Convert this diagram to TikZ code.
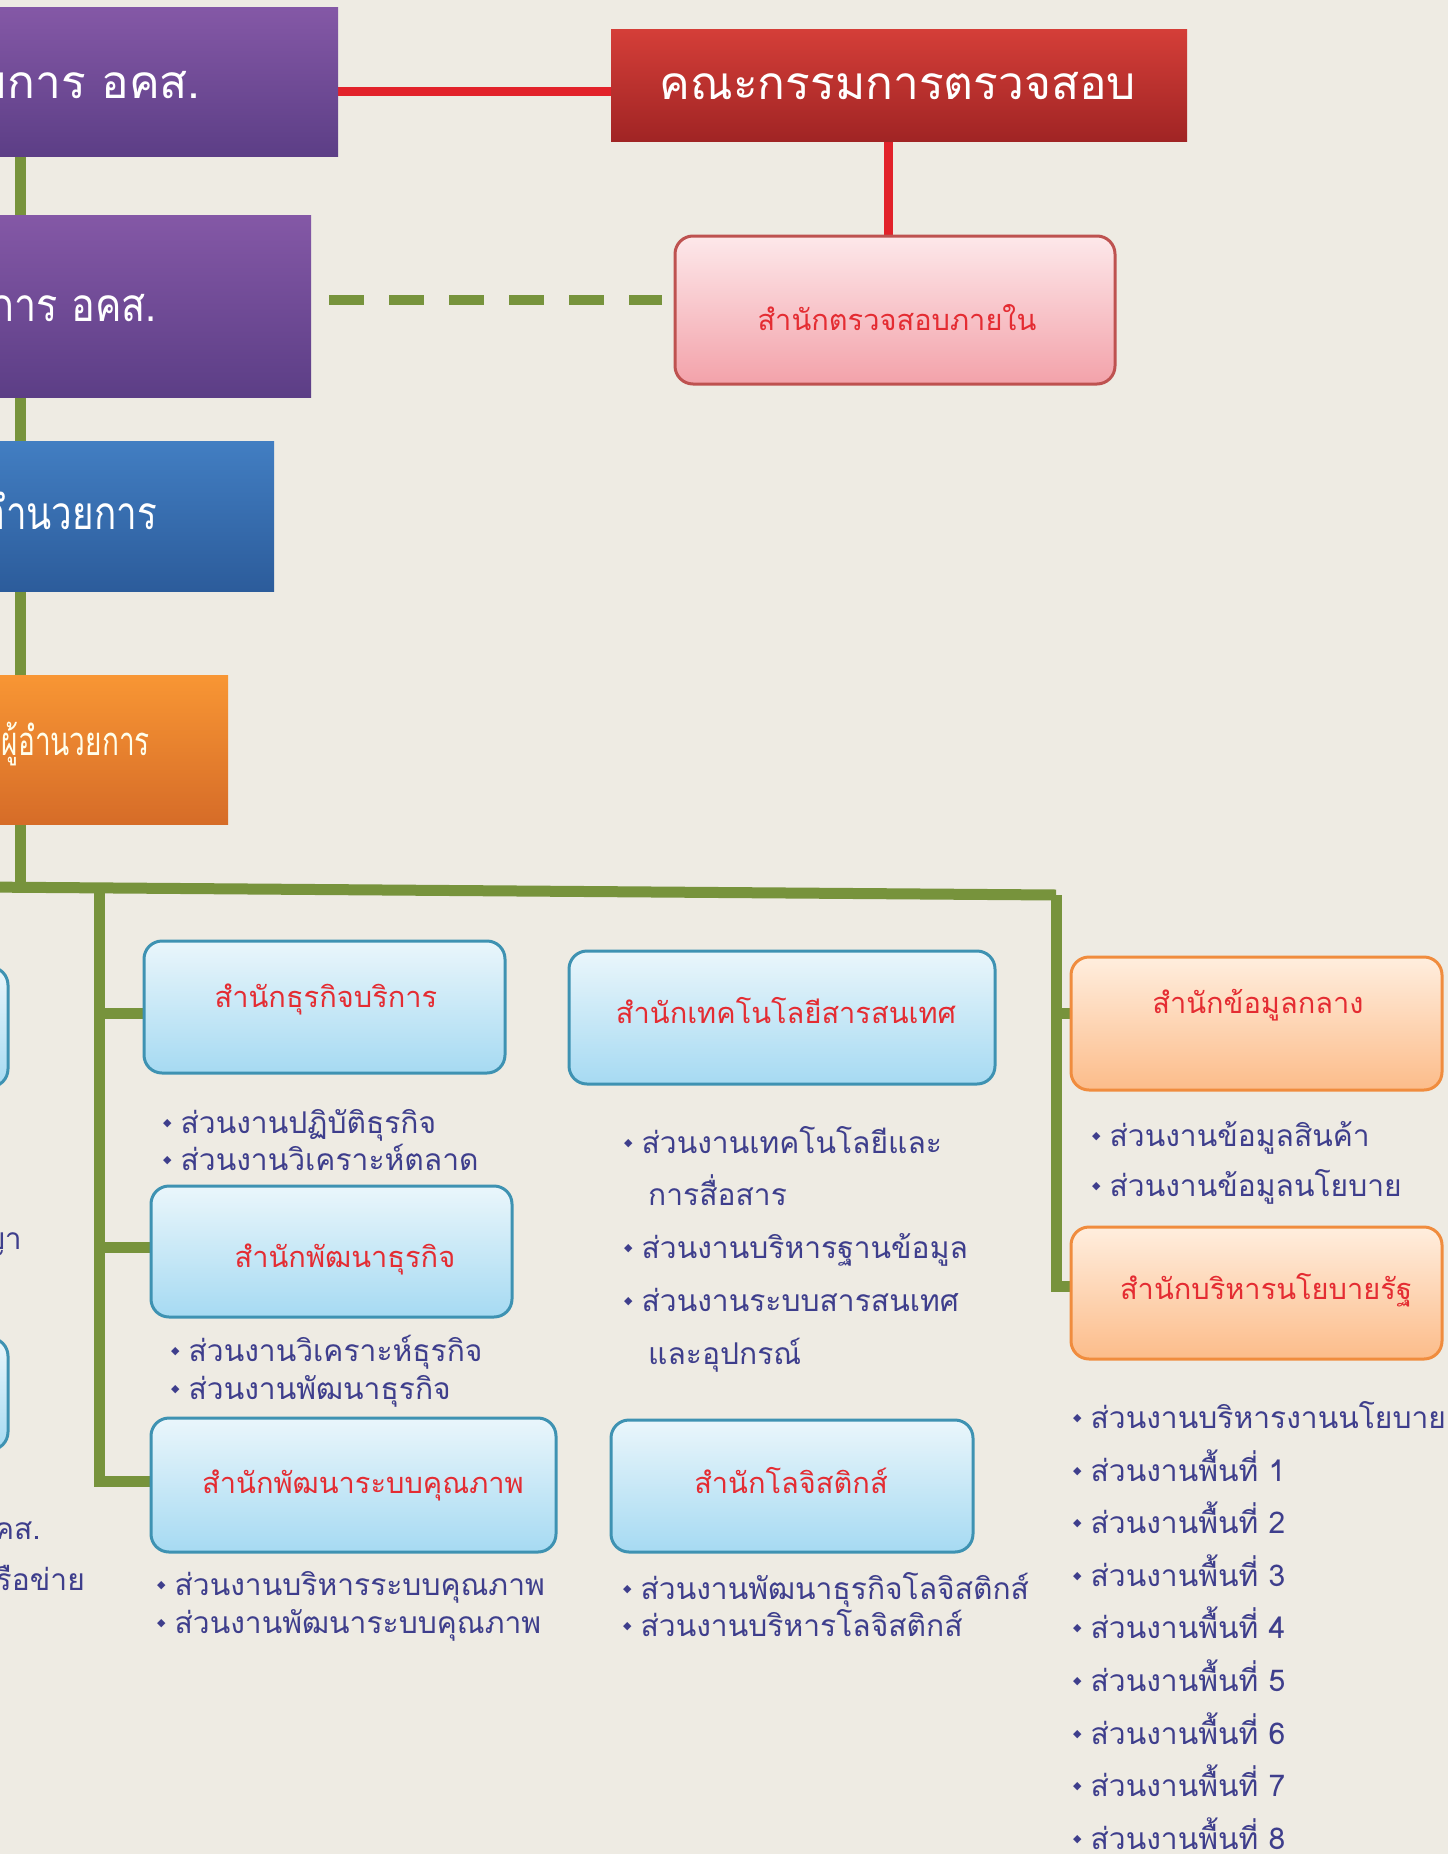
\documentclass[tikz,border=0pt]{standalone}
\usepackage{fontspec}
\newfontfamily\thai[Script=Thai]{Loma}
\newfontfamily\thaiA[Script=Thai,FakeStretch=0.86]{Loma}
\newfontfamily\thaiB[Script=Thai,FakeStretch=0.8]{Loma}
\newfontfamily\thaicond[Script=Thai,FakeStretch=0.7]{Loma}
\newfontfamily\djv{DejaVu Sans}
\usetikzlibrary{calc}
\pgfdeclarelayer{backlayer}
\pgfdeclarelayer{linelayer}
\pgfsetlayers{backlayer,linelayer,main}
\definecolor{bgc}{RGB}{238,235,227}
\definecolor{purT}{RGB}{132,88,166}
\definecolor{purB}{RGB}{92,62,134}
\definecolor{bluT}{RGB}{66,126,194}
\definecolor{bluB}{RGB}{44,92,155}
\definecolor{orT}{RGB}{248,150,52}
\definecolor{orB}{RGB}{214,108,40}
\definecolor{redT}{RGB}{212,62,56}
\definecolor{redB}{RGB}{160,36,36}
\definecolor{lbT}{RGB}{234,246,251}
\definecolor{lbB}{RGB}{166,218,242}
\definecolor{lbD}{RGB}{62,146,178}
\definecolor{loT}{RGB}{255,238,222}
\definecolor{loB}{RGB}{252,188,138}
\definecolor{loD}{RGB}{240,140,62}
\definecolor{pkT}{RGB}{253,232,234}
\definecolor{pkB}{RGB}{243,162,170}
\definecolor{pkD}{RGB}{190,82,80}
\definecolor{ttlRed}{RGB}{228,44,50}
\definecolor{bulBlue}{RGB}{62,62,140}
\definecolor{lineGreen}{RGB}{119,147,60}
\definecolor{lineRed}{RGB}{226,34,42}
\newcommand\bul{\raisebox{7pt}{\djv\fontsize{11pt}{11pt}\selectfont ◆}\hspace{9pt}}
\begin{document}
\begin{tikzpicture}[x=1pt,y=-1pt,
  boxbase/.style={rectangle, inner sep=0pt, outer sep=0pt},
  purplebox/.style={boxbase, top color=purT, bottom color=purB, draw=none},
  bluebox/.style={boxbase, top color=bluT, bottom color=bluB, draw=none},
  orangebox/.style={boxbase, top color=orT, bottom color=orB, draw=none},
  redbox/.style={boxbase, top color=redT, bottom color=redB, draw=none},
  lbbox/.style={boxbase, rounded corners=18pt, draw=lbD, line width=3pt, top color=lbT, bottom color=lbB},
  lobox/.style={boxbase, rounded corners=18pt, draw=loD, line width=3pt, top color=loT, bottom color=loB},
  pkbox/.style={boxbase, rounded corners=18pt, draw=pkD, line width=3pt, top color=pkT, bottom color=pkB},
  bigtext/.style={inner sep=0pt, font=\thai\fontsize{46pt}{50pt}\selectfont, text=white},
  condtext/.style={inner sep=0pt, font=\thaicond\fontsize{40pt}{44pt}\selectfont, text=white!92!yellow},
  ttl/.style={inner sep=0pt, anchor=base, font=\thai\fontsize{29pt}{34pt}\selectfont, text=ttlRed},
  bl/.style={inner sep=0pt, anchor=base west, font=\thai\fontsize{30pt}{36pt}\selectfont, text=bulBlue},
  gline/.style={draw=lineGreen, line width=11pt},
  rline/.style={draw=lineRed, line width=9pt},
  dline/.style={draw=lineGreen, line width=10pt, dash pattern=on 35pt off 25pt}
]
\begin{pgfonlayer}{backlayer}
\fill[bgc] (0,0) rectangle (1448,1854);
\end{pgfonlayer}
\useasboundingbox (0,0) rectangle (1448,1854);

% ---- top-left column
\node[purplebox, minimum width=360pt, minimum height=149pt, anchor=north east] (board) at (338,8) {};
\node[bigtext, anchor=base east] (boardT) at (201,99) {มการ อคส.};
\node[purplebox, minimum width=333pt, minimum height=182pt, anchor=north east] (chief) at (311,215) {};
\node[bigtext, font=\thaiA\fontsize{46pt}{50pt}\selectfont, anchor=base east] (chiefT) at (157,321) {การ อคส.};
\node[bluebox, minimum width=296pt, minimum height=150pt, anchor=north east] (dir) at (274,441) {};
\node[bigtext, font=\thaiB\fontsize{46pt}{50pt}\selectfont, anchor=base east] (dirT) at (157,529) {อำนวยการ};
\node[orangebox, minimum width=250pt, minimum height=149pt, anchor=north east] (dep) at (228,675) {};
\node[condtext, anchor=base east] (depT) at (150,755) {ผู้อำนวยการ};

% ---- audit
\node[redbox, minimum width=576pt, minimum height=112pt] (audit) at (899,86) {};
\node[bigtext, anchor=base] (auditT) at (898,100) {คณะกรรมการตรวจสอบ};
\node[pkbox, minimum width=440pt, minimum height=148pt] (iaud) at (895,310) {};
\node[ttl] (iaudT) at (897,330) {สำนักตรวจสอบภายใน};

% ---- left fragments
\node[lbbox, minimum width=200pt, minimum height=120pt, anchor=north east] (fragA) at (8,967) {};
\node[lbbox, minimum width=200pt, minimum height=112pt, anchor=north east] (fragB) at (8,1338) {};
\node[bl, anchor=base east] (fragT1) at (22,1249) {ญา};
\node[bl, anchor=base east] (fragT2) at (41,1539) {คส.};
\node[bl, anchor=base east] (fragT3) at (85,1590) {รือข่าย};

% ---- offices
\node[lbbox, minimum width=361pt, minimum height=132pt] (stk) at (324.5,1007) {};
\node[ttl] (stkT) at (326,1007) {สำนักธุรกิจบริการ};
\node[lbbox, minimum width=361pt, minimum height=131pt] (spt) at (331.5,1251.5) {};
\node[ttl] (sptT) at (345,1267) {สำนักพัฒนาธุรกิจ};
\node[lbbox, minimum width=405pt, minimum height=134pt] (sprb) at (353.5,1485) {};
\node[ttl] (sprbT) at (363,1493) {สำนักพัฒนาระบบคุณภาพ};
\node[lbbox, minimum width=426pt, minimum height=133pt] (sit) at (782,1017.5) {};
\node[ttl] (sitT) at (786,1023) {สำนักเทคโนโลยีสารสนเทศ};
\node[lbbox, minimum width=362pt, minimum height=132pt] (slog) at (792,1486) {};
\node[ttl] (slogT) at (791,1493) {สำนักโลจิสติกส์};
\node[lobox, minimum width=371pt, minimum height=133pt] (sdata) at (1256.5,1023.5) {};
\node[ttl] (sdataT) at (1258,1013) {สำนักข้อมูลกลาง};
\node[lobox, minimum width=371pt, minimum height=132pt] (spol) at (1256.5,1293) {};
\node[ttl] (spolT) at (1266,1299) {สำนักบริหารนโยบายรัฐ};

% ---- bullet lists
\node[bl] (a1) at (163,1133) {\bul ส่วนงานปฏิบัติธุรกิจ};
\node[bl] (a2) at (163,1170) {\bul ส่วนงานวิเคราะห์ตลาด};
\node[bl] (b1) at (171,1361) {\bul ส่วนงานวิเคราะห์ธุรกิจ};
\node[bl] (b2) at (171,1399) {\bul ส่วนงานพัฒนาธุรกิจ};
\node[bl] (c1) at (157,1595) {\bul ส่วนงานบริหารระบบคุณภาพ};
\node[bl] (c2) at (157,1633) {\bul ส่วนงานพัฒนาระบบคุณภาพ};
\node[bl] (d1) at (624,1153) {\bul ส่วนงานเทคโนโลยีและ};
\node[bl] (d1b) at (648,1205) {การสื่อสาร};
\node[bl] (d2) at (624,1258) {\bul ส่วนงานบริหารฐานข้อมูล};
\node[bl] (d3) at (624,1311) {\bul ส่วนงานระบบสารสนเทศ};
\node[bl] (d3b) at (648,1364) {และอุปกรณ์};
\node[bl] (e1) at (623,1599) {\bul ส่วนงานพัฒนาธุรกิจโลจิสติกส์};
\node[bl] (e2) at (623,1636) {\bul ส่วนงานบริหารโลจิสติกส์};
\node[bl] (f1) at (1092,1146) {\bul ส่วนงานข้อมูลสินค้า};
\node[bl] (f2) at (1092,1196) {\bul ส่วนงานข้อมูลนโยบาย};
\node[bl] (g0) at (1073,1428) {\bul ส่วนงานบริหารงานนโยบาย};
\node[bl] (g1) at (1073,1481) {\bul ส่วนงานพื้นที่ 1};
\node[bl] (g2) at (1073,1533) {\bul ส่วนงานพื้นที่ 2};
\node[bl] (g3) at (1073,1586) {\bul ส่วนงานพื้นที่ 3};
\node[bl] (g4) at (1073,1638) {\bul ส่วนงานพื้นที่ 4};
\node[bl] (g5) at (1073,1691) {\bul ส่วนงานพื้นที่ 5};
\node[bl] (g6) at (1073,1744) {\bul ส่วนงานพื้นที่ 6};
\node[bl] (g7) at (1073,1796) {\bul ส่วนงานพื้นที่ 7};
\node[bl] (g8) at (1073,1849) {\bul ส่วนงานพื้นที่ 8};

% ---- connector coordinates
\coordinate (spx) at (20,0);
\coordinate (hL) at (-20,887);
\coordinate (lb0) at (99,887);
\coordinate (rb0) at (1056,895);
\coordinate (redy) at (0,92);
\coordinate (rx) at (888,0);
\coordinate (dy) at (0,300);
\coordinate (stkW) at ([yshift=-6pt]stk.west);
\coordinate (sptW) at ([yshift=4pt]spt.west);
\coordinate (sprbW) at ([yshift=4pt]sprb.west);
\coordinate (spolW) at ([yshift=7pt]spol.west);
\coordinate (sdataW) at ([yshift=10pt]sdata.west);

\begin{pgfonlayer}{linelayer}
\draw[gline] (board.south -| spx) -- (spx |- hL);
\draw[gline] (hL) -- (rb0);
\draw[gline, line join=miter] (lb0) |- (sprbW);
\draw[gline] (lb0 |- stkW) -- (stkW);
\draw[gline] (lb0 |- sptW) -- (sptW);
\draw[gline, line join=miter] (rb0) |- (spolW);
\draw[gline] (rb0 |- sdataW) -- (sdataW);
\draw[rline] (board.east |- redy) -- (audit.west |- redy);
\draw[rline] (audit.south -| rx) -- (iaud.north -| rx);
\draw[dline, shorten <=18pt, shorten >=13pt] (chief.east |- dy) -- (iaud.west |- dy);
\end{pgfonlayer}
\end{tikzpicture}
\end{document}
